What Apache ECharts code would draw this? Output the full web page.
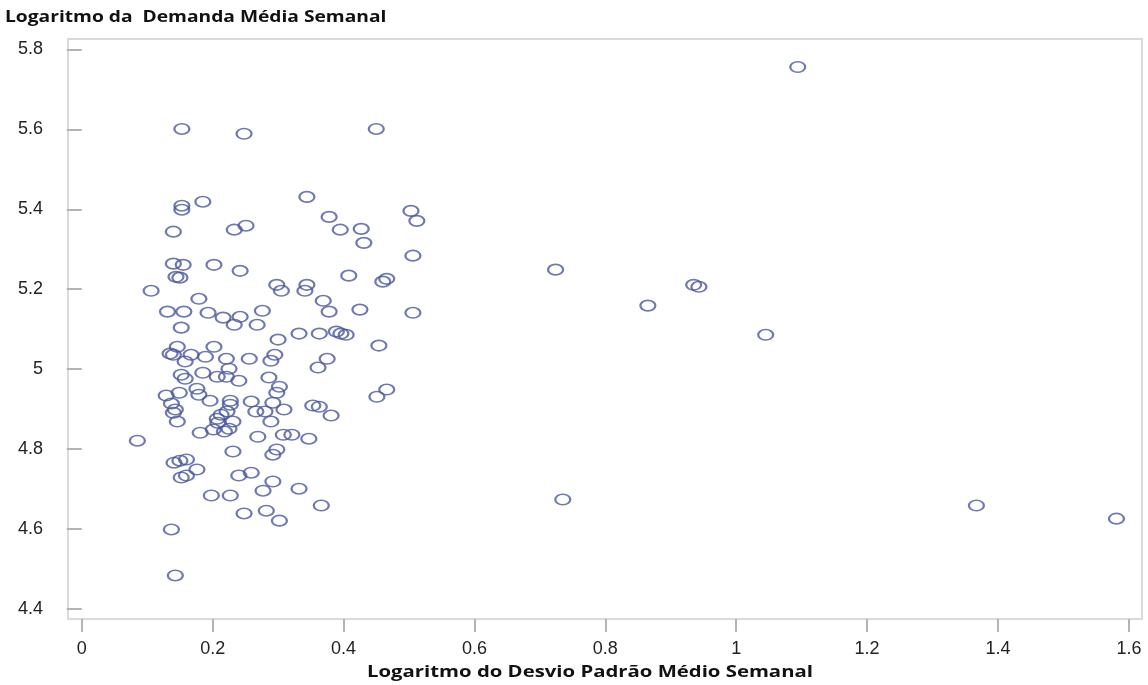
<!DOCTYPE html>
<html lang="pt">
<head>
<meta charset="utf-8">
<title>Logaritmo da Demanda vs Desvio Padrão</title>
<script src="https://cdn.jsdelivr.net/npm/echarts@6/dist/echarts.min.js"></script>
<style>
  html, body { margin: 0; padding: 0; background: #ffffff; }
  #chart { width: 1148px; height: 685px; }
</style>
</head>
<body>
<div id="chart"></div>
<script>
// Logaritmo do desvio padrão médio semanal (eixo X) por item
const desvioLog = [
  1.094, 0.153, 0.248, 0.450, 0.344, 0.185, 0.153, 0.153, 0.503, 0.378,
  0.512, 0.251, 0.233, 0.395, 0.427, 0.140, 0.431, 0.506, 0.140, 0.155,
  0.202, 0.242, 0.724, 0.144, 0.150, 0.408, 0.460, 0.466, 0.106, 0.298,
  0.305, 0.344, 0.341, 0.935, 0.943, 0.179, 0.369, 0.865, 0.131, 0.156,
  0.193, 0.216, 0.242, 0.233, 0.268, 0.276, 0.378, 0.425, 0.506, 0.152,
  1.045, 0.332, 0.363, 0.389, 0.396, 0.404, 0.300, 0.146, 0.135, 0.140,
  0.202, 0.167, 0.158, 0.189, 0.221, 0.256, 0.295, 0.289, 0.454, 0.375,
  0.225, 0.361, 0.185, 0.152, 0.158, 0.207, 0.221, 0.240, 0.286, 0.302,
  0.298, 0.292, 0.309, 0.466, 0.451, 0.129, 0.149, 0.137, 0.143, 0.140,
  0.146, 0.176, 0.179, 0.196, 0.227, 0.227, 0.222, 0.213, 0.207, 0.208,
  0.231, 0.181, 0.201, 0.218, 0.225, 0.259, 0.266, 0.280, 0.289, 0.269,
  0.308, 0.321, 0.347, 0.353, 0.363, 0.381, 0.085, 0.231, 0.292, 0.298,
  0.141, 0.150, 0.160, 0.176, 0.152, 0.160, 0.240, 0.259, 0.292, 0.277,
  0.332, 0.198, 0.227, 0.248, 0.282, 0.302, 0.366, 0.735, 1.367, 1.581,
  0.137, 0.143
];

// Logaritmo da demanda média semanal (eixo Y) por item
const demandaLog = [
  5.756, 5.601, 5.589, 5.601, 5.431, 5.419, 5.409, 5.399, 5.396, 5.381,
  5.371, 5.359, 5.349, 5.349, 5.351, 5.344, 5.316, 5.284, 5.264, 5.261,
  5.261, 5.246, 5.249, 5.231, 5.229, 5.234, 5.219, 5.226, 5.196, 5.211,
  5.196, 5.211, 5.196, 5.211, 5.206, 5.176, 5.171, 5.159, 5.144, 5.144,
  5.141, 5.129, 5.131, 5.111, 5.111, 5.146, 5.144, 5.149, 5.141, 5.104,
  5.086, 5.089, 5.089, 5.094, 5.089, 5.086, 5.074, 5.056, 5.039, 5.036,
  5.056, 5.036, 5.019, 5.031, 5.026, 5.026, 5.036, 5.021, 5.059, 5.026,
  5.001, 5.004, 4.991, 4.986, 4.976, 4.981, 4.981, 4.971, 4.979, 4.956,
  4.941, 4.916, 4.899, 4.949, 4.931, 4.934, 4.941, 4.914, 4.899, 4.891,
  4.869, 4.951, 4.936, 4.921, 4.921, 4.911, 4.894, 4.886, 4.876, 4.866,
  4.869, 4.841, 4.849, 4.844, 4.851, 4.919, 4.894, 4.894, 4.869, 4.831,
  4.836, 4.836, 4.826, 4.909, 4.906, 4.884, 4.821, 4.794, 4.786, 4.799,
  4.766, 4.771, 4.774, 4.749, 4.729, 4.734, 4.734, 4.741, 4.719, 4.696,
  4.701, 4.684, 4.684, 4.639, 4.646, 4.621, 4.659, 4.674, 4.659, 4.626,
  4.599, 4.484
];

// Marcas dos eixos
const xTicks = [0, 0.2, 0.4, 0.6, 0.8, 1, 1.2, 1.4, 1.6];
const yTicks = [4.4, 4.6, 4.8, 5, 5.2, 5.4, 5.6, 5.8];

const tituloY = 'Logaritmo da  Demanda Média Semanal';
const tituloX = 'Logaritmo do Desvio Padrão Médio Semanal';

const pontos = desvioLog.map((x, i) => [x, demandaLog[i]]);

const labelFont = { fontFamily: 'Liberation Sans', fontSize: 18, color: '#222' };
const fmt = v => String(Math.round(v * 10) / 10);

// Texto dos títulos, levemente alargado na horizontal
function titulo(text, x, y, align, scaleX) {
  return {
    type: 'text', x: x, y: y, scaleX: scaleX, silent: true,
    style: {
      text: text, fontFamily: 'Open Sans', fontWeight: 'bold', fontSize: 16,
      fill: '#111', align: align, verticalAlign: 'middle'
    }
  };
}

const chart = echarts.init(document.getElementById('chart'), null, { renderer: 'canvas' });

chart.setOption({
  animation: false,
  backgroundColor: '#ffffff',
  graphic: [
    titulo(tituloY, 5, 17, 'left', 1.2),
    titulo(tituloX, 590, 672, 'center', 1.27)
  ],
  grid: {
    left: 68, right: 6, top: 39, bottom: 66,
    show: true, borderColor: '#dadada', borderWidth: 2, backgroundColor: '#ffffff'
  },
  xAxis: {
    type: 'value',
    min: -0.021, max: 1.62,
    axisLine: { show: false },
    splitLine: { show: false },
    axisTick: { show: true, customValues: xTicks, length: 13, lineStyle: { color: '#b4b4b4', width: 2 } },
    axisLabel: { customValues: xTicks, margin: 21, formatter: fmt, ...labelFont }
  },
  yAxis: {
    type: 'value',
    min: 4.375, max: 5.826,
    axisLine: { show: false },
    splitLine: { show: false },
    axisTick: { show: true, customValues: yTicks, length: 15, lineStyle: { color: '#b4b4b4', width: 2 } },
    axisLabel: { customValues: yTicks, margin: 25, formatter: fmt, ...labelFont }
  },
  series: [{
    type: 'scatter',
    data: pontos,
    symbol: 'circle',
    symbolSize: [15, 10.5],
    itemStyle: { color: 'rgba(0,0,0,0)', borderColor: '#4a569e', borderWidth: 1.9 },
    emphasis: { disabled: true }
  }]
});
</script>
</body>
</html>
